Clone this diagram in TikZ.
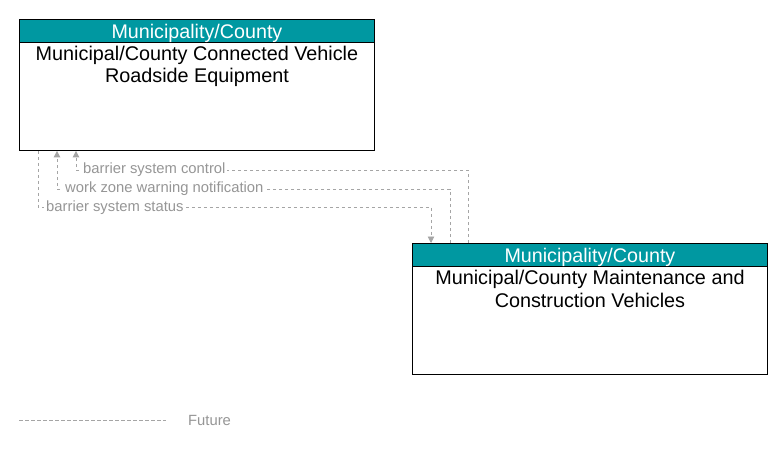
\documentclass[tikz,border=0pt]{standalone}
\usepackage{fontspec}
\setmainfont{Liberation Sans}
\usetikzlibrary{arrows.meta,calc}
\definecolor{hdr}{RGB}{0,152,161}
\definecolor{flowc}{RGB}{165,165,165}
\definecolor{lblc}{RGB}{150,150,150}
\begin{document}
\begin{tikzpicture}[x=1pt,y=-1pt,
  box/.style={draw=black,line width=0.9pt,minimum width=355pt,minimum height=131pt,inner sep=0pt,anchor=north west},
  hdrbox/.style={draw=black,line width=0.9pt,fill=hdr,minimum width=355pt,minimum height=23pt,inner sep=0pt,anchor=north west},
  hdrtext/.style={text=white,font=\fontsize{19.7}{22}\selectfont,anchor=base,inner sep=0pt},
  nametext/.style={text=black,font=\fontsize{19.8}{22.3}\selectfont,anchor=base,inner sep=0pt,align=center},
  flow/.style={draw=flowc,line width=0.8pt,dash pattern=on 3.5pt off 2.5pt},
  tip/.style={-{Triangle[width=6.5pt,length=6.5pt]},flowc},
  lbl/.style={text=lblc,fill=white,font=\fontsize{14.8}{16}\selectfont,inner xsep=2pt,inner ysep=1pt,anchor=west}
]
\fill[white] (0,0) rectangle (783,449);
\useasboundingbox (0,0) rectangle (783,449);
% boxes
\node[box] (A) at (19,19) {};
\node[hdrbox] (Ah) at (19,19) {};
\node[hdrtext] (Aht) at ($(A.north)+(0,19.5)$) {Municipality/County};
\node[nametext] (At) at ($(A.north)+(0,64)$) {Municipal/County Connected Vehicle\\Roadside Equipment};
\node[box] (B) at (412,243) {};
\node[hdrbox] (Bh) at (412,243) {};
\node[hdrtext] (Bht) at ($(B.north)+(0,19.5)$) {Municipality/County};
\node[nametext] (Bt) at ($(B.north)+(0,64)$) {Municipal/County Maintenance and\\Construction Vehicles};
% flows
\draw[flow,tip] ($(B.north west)+(56,0)$) |- ($(A.south west)+(57,19)$) -- ($(A.south west)+(57,0)$);
\draw[flow,tip] ($(B.north west)+(38,0)$) |- ($(A.south west)+(38,38)$) -- ($(A.south west)+(38,0)$);
\draw[flow,tip] ($(A.south west)+(19,0)$) |- ($(B.north west)+(19,-36)$) -- ($(B.north west)+(19,0)$);
\node[lbl] (l1) at ($(A.south west)+(62,19)$) {barrier system control};
\node[lbl] (l2) at ($(A.south west)+(44,38)$) {work zone warning notification};
\node[lbl] (l3) at ($(A.south west)+(25,57)$) {barrier system status};
% legend
\coordinate (L1) at (19,420);
\coordinate (L2) at (166,420);
\draw[flow] (L1) -- (L2);
\node[lbl] (Lf) at (186,420) {Future};
\end{tikzpicture}
\end{document}
